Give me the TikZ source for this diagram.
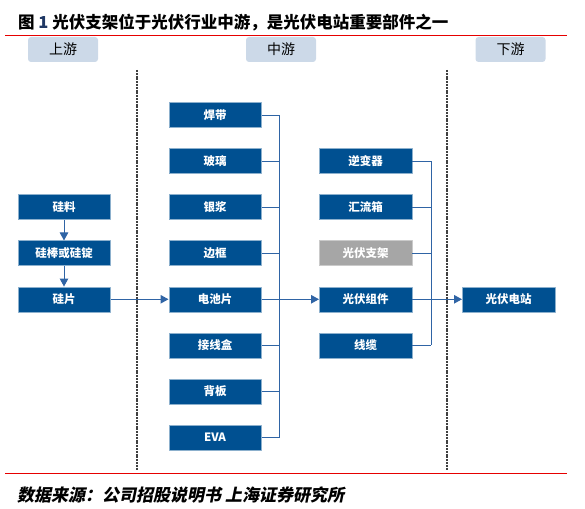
\documentclass[tikz,border=0pt]{standalone}
\usepackage{fontspec}
\setmainfont{Noto Sans CJK SC}
\newfontfamily\srcfont{Noto Sans CJK SC}[FakeSlant=0.2,BoldFeatures={FakeSlant=0.2}]
\usetikzlibrary{arrows.meta}
\definecolor{boxblue}{RGB}{0,80,145}
\definecolor{lineblue}{RGB}{47,100,165}
\definecolor{headfill}{RGB}{204,217,232}
\definecolor{grayfill}{RGB}{166,166,166}
\definecolor{rulered}{RGB}{230,0,0}
\definecolor{titleblue}{RGB}{31,56,100}
\tikzset{
 blk/.style={fill=boxblue,draw=boxblue!45!white,line width=0.5pt,text=white,minimum width=92.5pt,minimum height=25pt,inner sep=0pt,font=\bfseries\fontsize{11.5}{12}\selectfont},
 gblk/.style={blk,fill=grayfill,draw=grayfill!60!white},
 head/.style={fill=headfill,rounded corners=3pt,minimum width=70pt,minimum height=25pt,inner sep=0pt,font=\fontsize{14}{15}\selectfont},
 link/.style={draw=lineblue,line width=1pt},
 sep/.style={draw=black!75,line width=1.2pt,dash pattern=on 2pt off 0.8pt},
 rule/.style={draw=rulered,line width=1pt}
}
\begin{document}
\begin{tikzpicture}[x=1pt,y=-1pt,line join=round,>={Triangle[length=8pt,width=8.5pt]}]
 \def\dy{46.07}\def\ytop{115}
 \useasboundingbox (0,0) rectangle (585,508);
 % title and rules
 \node[anchor=west,inner sep=0pt,font=\bfseries\fontsize{16.5}{18}\selectfont] (title) at (18,23) {图 \textcolor{titleblue}{1} 光伏支架位于光伏行业中游，是光伏电站重要部件之一};
 \draw[rule] (5,35.5) -- (567,35.5);
 \draw[rule] (5,473.5) -- (567,473.5);
 \node[anchor=west,inner sep=0pt,font=\srcfont\bfseries\fontsize{17}{18}\selectfont] (src) at (17,495) {数据来源：公司招股说明书 上海证券研究所};
 % stages
 \node[head] (up) at (63,49.5) {上游};
 \node[head] (mid) at (281,49.5) {中游};
 \node[head] (down) at (510.5,49.5) {下游};
 \draw[sep] (137,70) -- (137,470) (447,70) -- (447,470);
 % upstream
 \node[blk] (sl) at (64,{\ytop+2*\dy}) {硅料};
 \node[blk] (sb) at (64,{\ytop+3*\dy}) {硅棒或硅锭};
 \node[blk] (sp) at (64,{\ytop+4*\dy}) {硅片};
 % midstream
 \foreach \t [count=\i from 0] in {焊带,玻璃,银浆,边框,电池片,接线盒,背板,EVA}
  \node[blk] (m\i) at (215,{\ytop+\i*\dy}) {\t};
 \foreach \t/\s [count=\i] in {逆变器/blk,汇流箱/blk,光伏支架/gblk,光伏组件/blk,线缆/blk}
  \node[\s] (r\i) at (365.5,{\ytop+\i*\dy}) {\t};
 % downstream
 \node[blk] (st) at (508.5,{\ytop+4*\dy}) {光伏电站};
 % buses
 \coordinate (busA) at (279.5,0);
 \coordinate (busB) at (431,0);
 \foreach \i in {0,...,7} \draw[link] (m\i.east) -- (m\i.east -| busA);
 \draw[link] (m0.east -| busA) -- (m7.east -| busA);
 \foreach \i in {1,...,5} \draw[link] (r\i.east) -- (r\i.east -| busB);
 \draw[link] (r1.east -| busB) -- (r5.east -| busB);
 % arrows
 \draw[link,->] (sl) -- (sb);
 \draw[link,->] (sb) -- (sp);
 \draw[link,->] (sp) -- (m4);
 \draw[link,->] (m4) -- (r4);
 \draw[link,->] (r4) -- (st);
\end{tikzpicture}
\end{document}
